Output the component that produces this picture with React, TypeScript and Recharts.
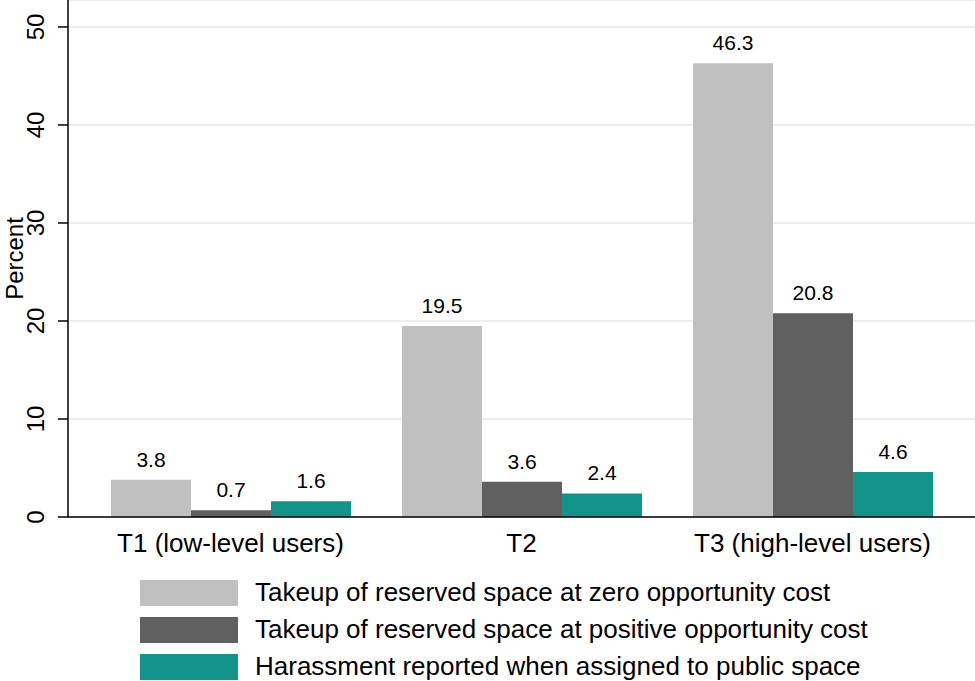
import React from "react";
import { BarChart, Bar, XAxis, YAxis, CartesianGrid, LabelList } from "recharts";

const categories = ["T1 (low-level users)", "T2", "T3 (high-level users)"];
const zeroCost = [3.8, 19.5, 46.3];
const positiveCost = [0.7, 3.6, 20.8];
const harassment = [1.6, 2.4, 4.6];
const yTicks = [0, 10, 20, 30, 40, 50];
const seriesNames = [
  "Takeup of reserved space at zero opportunity cost",
  "Takeup of reserved space at positive opportunity cost",
  "Harassment reported when assigned to public space",
];
const seriesColors = ["#c0c0c0", "#606060", "#12948a"];

const data = categories.map((c, i) => ({
  name: c,
  zero: zeroCost[i],
  positive: positiveCost[i],
  harass: harassment[i],
}));

const FONT = "'Liberation Sans', Arial, Helvetica, sans-serif";

const YTick = (props: any) => {
  const { y, payload } = props;
  const tx = 44;
  return (
    <text
      x={tx}
      y={y}
      transform={`rotate(-90, ${tx}, ${y})`}
      textAnchor="middle"
      fontSize={24}
      fontFamily={FONT}
      fill="#000"
    >
      {payload.value}
    </text>
  );
};

const XTick = (props: any) => {
  const { x, y, payload } = props;
  return (
    <text x={x} y={y + 27} textAnchor="middle" fontSize={26} fontFamily={FONT} fill="#000">
      {payload.value}
    </text>
  );
};

const YTitle = (props: any) => {
  const vb = props.viewBox || {};
  const cy = (vb.y ?? 0) + (vb.height ?? 517) / 2;
  const tx = 22.5;
  return (
    <text
      x={tx}
      y={cy}
      transform={`rotate(-90, ${tx}, ${cy})`}
      textAnchor="middle"
      fontSize={24}
      fontFamily={FONT}
      fill="#000"
    >
      Percent
    </text>
  );
};

const labelStyle = { fontSize: 21, fontFamily: FONT, fill: "#000" };

export default function App() {
  const keys = ["zero", "positive", "harass"];
  return (
    <div style={{ position: "absolute", left: 0, top: 0, width: 975, height: 681, background: "#fff" }}>
      <BarChart
        width={975}
        height={681}
        data={data}
        margin={{ top: 0, right: 0, left: 0, bottom: 114 }}
        barCategoryGap={26}
        barGap={0}
      >
        <CartesianGrid horizontal vertical={false} stroke="#e8e8e8" strokeWidth={1.5} />
        <XAxis
          dataKey="name"
          axisLine={{ stroke: "#000", strokeWidth: 1.5 }}
          tickLine={false}
          tick={<XTick />}
          height={50}
          padding={{ left: 17, right: 17 }}
          interval={0}
        />
        <YAxis
          domain={[0, 52.75]}
          ticks={yTicks}
          width={68}
          axisLine={{ stroke: "#000", strokeWidth: 1.5 }}
          tickLine={{ stroke: "#000", strokeWidth: 1.5 }}
          tickSize={10}
          tick={<YTick />}
          allowDataOverflow
          label={<YTitle />}
        />
        {keys.map((k, i) => (
          <Bar key={k} dataKey={k} fill={seriesColors[i]} isAnimationActive={false}>
            <LabelList dataKey={k} position="top" offset={13} style={labelStyle} />
          </Bar>
        ))}
      </BarChart>
      <div style={{ position: "absolute", left: 140, top: 574, fontFamily: FONT }}>
        {seriesNames.map((n, i) => (
          <div key={n} style={{ display: "flex", alignItems: "center", height: 37 }}>
            <div style={{ width: 98, height: 26, background: seriesColors[i], marginRight: 17 }} />
            <span style={{ fontSize: 26, color: "#000", whiteSpace: "nowrap" }}>{n}</span>
          </div>
        ))}
      </div>
    </div>
  );
}
